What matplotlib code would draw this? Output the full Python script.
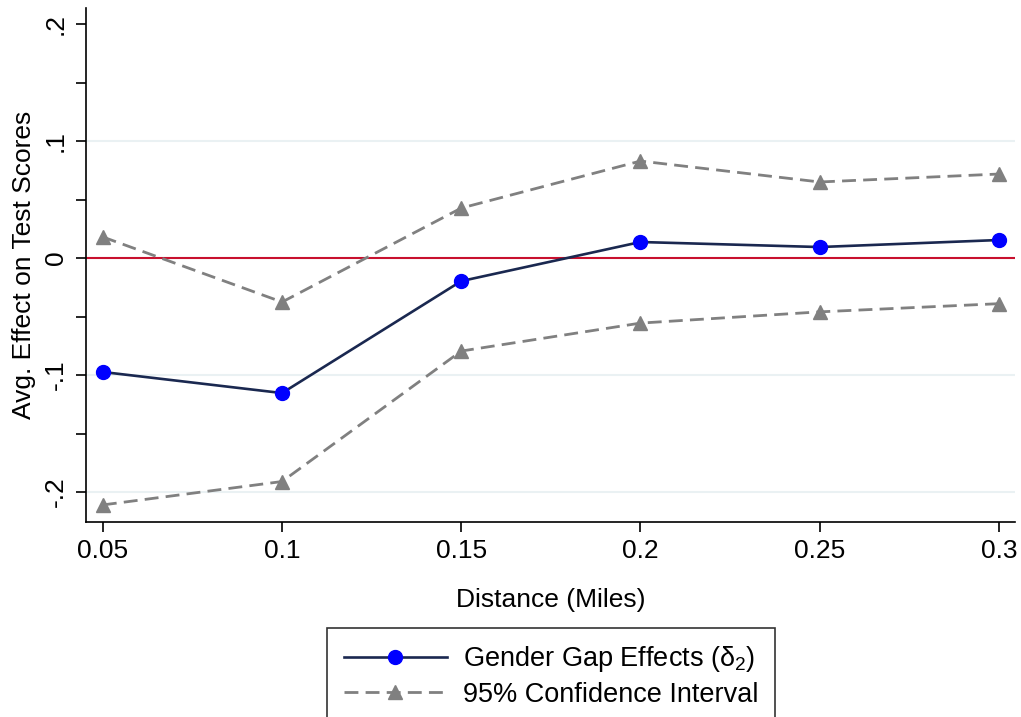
import matplotlib
matplotlib.use("Agg")
import matplotlib.pyplot as plt
from matplotlib.ticker import FixedLocator

plt.rcParams['font.family'] = ['Liberation Sans', 'DejaVu Sans']
plt.rcParams['mathtext.fontset'] = 'custom'
plt.rcParams['mathtext.rm'] = 'Liberation Sans'
plt.rcParams['mathtext.it'] = 'Liberation Sans'

distance = [0.05, 0.10, 0.15, 0.20, 0.25, 0.30]
effect = [-0.0974, -0.1154, -0.0197, 0.0137, 0.0094, 0.0154]
ci_upper = [0.018, -0.0376, 0.0427, 0.0829, 0.065, 0.0718]
ci_lower = [-0.211, -0.191, -0.0795, -0.0556, -0.046, -0.039]
xtick_vals = [0.05, 0.1, 0.15, 0.2, 0.25, 0.3]
xtick_labels = ['0.05', '0.1', '0.15', '0.2', '0.25', '0.3']
ytick_vals = [-0.2, -0.1, 0.0, 0.1, 0.2]
ytick_labels = ['-.2', '-.1', '0', '.1', '.2']
yminor_vals = [-0.15, -0.05, 0.05, 0.15]
grid_vals = [-0.2, -0.1, 0.1]

FS = 19

fig = plt.figure(figsize=(10.21, 7.17), dpi=100)
ax = fig.add_axes([86/1021, 1-522/717, (1015-86)/1021, (522-8)/717])

for y in grid_vals:
    ax.axhline(y, color='#eaf1f3', lw=1.5, zorder=0)
ax.axhline(0, color='#c8102e', lw=1.5, zorder=1)

DASH = (0, (5.0, 2.6))
ax.plot(distance, effect, color='#1a2850', lw=1.9, marker='o', markersize=10,
        markerfacecolor='#0000ff', markeredgecolor='#0000ff', zorder=4,
        label=r'Gender Gap Effects ($\delta_2$)')
ax.plot(distance, ci_upper, color='#808080', lw=2.0, ls=DASH, marker='^',
        markersize=10.5, markerfacecolor='#808080', markeredgecolor='#808080', zorder=3,
        label='95% Confidence Interval')
ax.plot(distance, ci_lower, color='#808080', lw=2.0, ls=DASH, marker='^',
        markersize=10.5, markerfacecolor='#808080', markeredgecolor='#808080', zorder=3)

ax.set_xlim(0.0453, 0.3045)
ax.set_ylim(-0.2256, 0.2137)
ax.set_xticks(xtick_vals)
ax.set_xticklabels(xtick_labels, fontsize=FS)
ax.set_yticks(ytick_vals)
ax.set_yticklabels(ytick_labels, fontsize=FS, rotation=90, va='center')
ax.yaxis.set_minor_locator(FixedLocator(yminor_vals))
ax.tick_params(axis='both', which='both', length=7, width=1.2, direction='out')
ax.tick_params(axis='y', pad=6)
ax.tick_params(axis='x', pad=5)
ax.spines['top'].set_visible(False)
ax.spines['right'].set_visible(False)
ax.spines['left'].set_linewidth(1.2)
ax.spines['bottom'].set_linewidth(1.2)

ax.set_xlabel('Distance (Miles)', fontsize=FS)
ax.xaxis.label.set_va('center')
ax.xaxis.set_label_coords(0.5, (522-600)/514)
ax.set_ylabel('Avg. Effect on Test Scores', fontsize=FS)
ax.yaxis.label.set_va('center')
ax.yaxis.set_label_coords((24-86)/929, 0.5)

leg = fig.legend(loc='upper center', bbox_to_anchor=(551/1021, 1-628/717), fontsize=19.5,
                 frameon=True, fancybox=False, edgecolor='black', handlelength=3.8,
                 handletextpad=0.6, borderpad=0.6, labelspacing=0.28, borderaxespad=0)
leg.get_frame().set_linewidth(1.2)

fig.savefig('out.png', dpi=100)
